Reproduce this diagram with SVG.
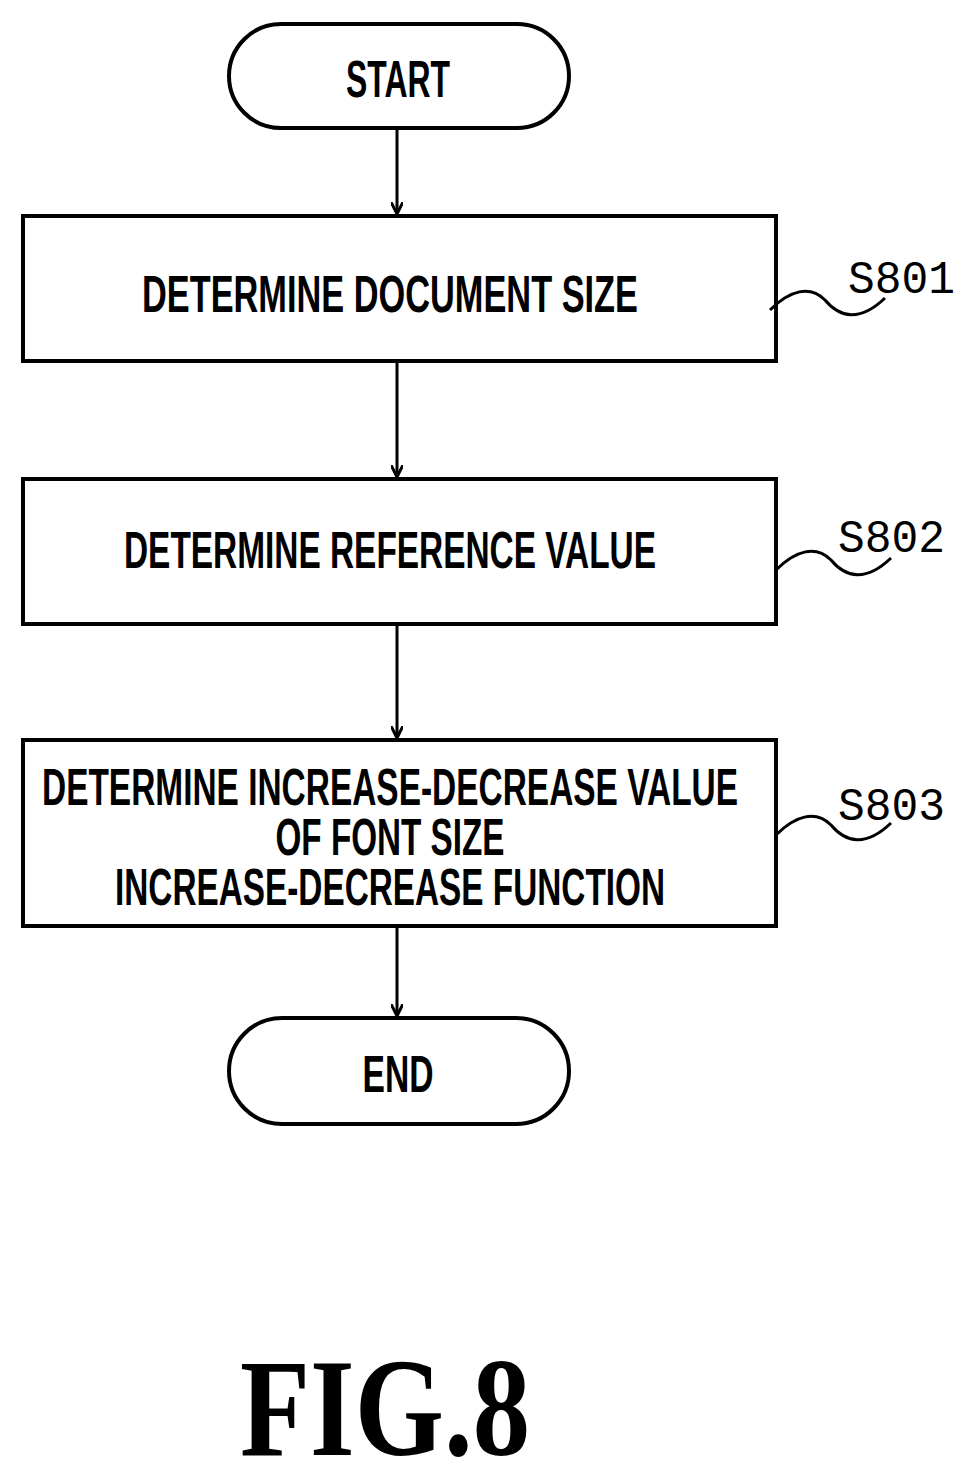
<svg xmlns="http://www.w3.org/2000/svg" width="977" height="1477" viewBox="0 0 977 1477">
<style>
.b{fill:#fff;stroke:#000;stroke-width:4}
.t{font-family:"Liberation Sans",Arial,sans-serif;font-weight:bold;font-size:52px;text-anchor:middle}
.s{font-family:"Liberation Mono","DejaVu Sans Mono",monospace;font-size:46px}
.c{fill:none;stroke:#000;stroke-width:3}
</style>
<defs><marker id="a" markerWidth="12" markerHeight="12" refX="10" refY="6" orient="auto" markerUnits="userSpaceOnUse" viewBox="0 0 12 12"><path d="M0,0 L12,6 L0,12" fill="none" stroke="#000" stroke-width="3"/></marker></defs>
<rect width="977" height="1477" fill="#fff"/>
<g id="start"><rect class="b" x="229" y="24" width="340" height="104" rx="52"/><text class="t" x="398" y="97" textLength="104" lengthAdjust="spacingAndGlyphs">START</text></g>
<g id="s801"><rect class="b" x="23" y="216" width="753" height="145"/><text class="t" x="390" y="312" textLength="496" lengthAdjust="spacingAndGlyphs">DETERMINE DOCUMENT SIZE</text></g>
<g id="s802"><rect class="b" x="23" y="479" width="753" height="145"/><text class="t" x="390" y="568" textLength="532" lengthAdjust="spacingAndGlyphs">DETERMINE REFERENCE VALUE</text></g>
<g id="s803"><rect class="b" x="23" y="740" width="753" height="186"/><text class="t" x="390" y="805" textLength="696" lengthAdjust="spacingAndGlyphs">DETERMINE INCREASE-DECREASE VALUE</text><text class="t" x="390" y="855" textLength="229" lengthAdjust="spacingAndGlyphs">OF FONT SIZE</text><text class="t" x="390" y="905" textLength="550" lengthAdjust="spacingAndGlyphs">INCREASE-DECREASE FUNCTION</text></g>
<g id="end"><rect class="b" x="229" y="1018" width="340" height="106" rx="53"/><text class="t" x="398" y="1092" textLength="71" lengthAdjust="spacingAndGlyphs">END</text></g>
<g id="connectors">
<line class="c" x1="397" y1="128" x2="397" y2="212" marker-end="url(#a)"/>
<line class="c" x1="397" y1="361" x2="397" y2="475" marker-end="url(#a)"/>
<line class="c" x1="397" y1="624" x2="397" y2="736" marker-end="url(#a)"/>
<line class="c" x1="397" y1="926" x2="397" y2="1014" marker-end="url(#a)"/>
<path class="c" d="M770,310 C790,290 810,285 825,300 C840,318 860,322 885,298"/>
<path class="c" d="M776,570 C796,550 816,545 831,560 C846,578 866,582 891,558"/>
<path class="c" d="M776,835 C796,815 816,810 831,825 C846,843 866,847 891,823"/>
</g>
<text class="s" x="848" y="293" textLength="107" lengthAdjust="spacingAndGlyphs">S801</text>
<text class="s" x="838" y="552" textLength="107" lengthAdjust="spacingAndGlyphs">S802</text>
<text class="s" x="838" y="820" textLength="107" lengthAdjust="spacingAndGlyphs">S803</text>
<text x="385" y="1455" font-family="Liberation Serif,serif" font-weight="bold" font-size="140" text-anchor="middle" textLength="290" lengthAdjust="spacingAndGlyphs">FIG.8</text>
</svg>
